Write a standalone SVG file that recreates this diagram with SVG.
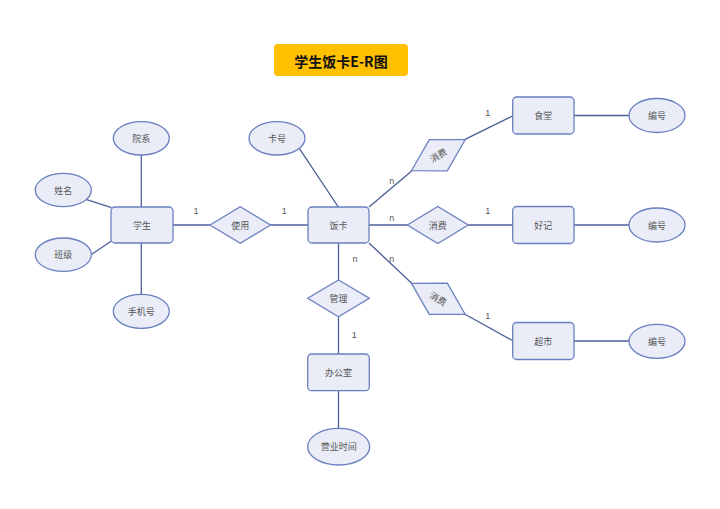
<svg xmlns="http://www.w3.org/2000/svg" width="720" height="509" viewBox="0 0 720 509">
<style>
.s{fill:#EAEDF8;stroke:#6A7FC0;stroke-width:1.3}
.c line{stroke:#4A5E98;stroke-width:1.3}
.t{font-family:"Noto Sans CJK SC","Liberation Sans",sans-serif;font-size:9px;fill:#555;text-anchor:middle;dominant-baseline:central}
.l{font-family:"Liberation Sans","Noto Sans CJK SC",sans-serif;font-size:9px;fill:#555;text-anchor:middle;dominant-baseline:central}
</style>
<rect width="720" height="509" fill="#fff"/>
<g id="title">
<rect x="274" y="44" width="134" height="32" rx="4" fill="#FFC000"/>
<text x="341" y="60.5" font-family="Noto Sans CJK SC,Liberation Sans,sans-serif" font-size="14" font-weight="bold" fill="#111" text-anchor="middle" dominant-baseline="central">学生饭卡E-R图</text>
</g>
<g class="c" id="connectors">
<line x1="141.3" y1="155" x2="141.3" y2="207"/>
<line x1="86" y1="199.3" x2="111.5" y2="207.7"/>
<line x1="91.7" y1="254.3" x2="111.5" y2="241"/>
<line x1="141.3" y1="243" x2="141.3" y2="294.3"/>
<line x1="173" y1="225" x2="210" y2="225"/>
<line x1="270.5" y1="225" x2="308" y2="225"/>
<line x1="299.3" y1="148.3" x2="338.3" y2="207"/>
<line x1="369" y1="207" x2="411.7" y2="171"/>
<line x1="465" y1="139.3" x2="512.7" y2="116"/>
<line x1="369" y1="225" x2="407.3" y2="225"/>
<line x1="468.3" y1="225" x2="512.7" y2="225"/>
<line x1="369" y1="243" x2="411.7" y2="283.3"/>
<line x1="465" y1="314.3" x2="512.7" y2="340.7"/>
<line x1="574" y1="115.5" x2="629.3" y2="115.5"/>
<line x1="574" y1="225" x2="629.3" y2="225"/>
<line x1="574" y1="341" x2="629.3" y2="341"/>
<line x1="338.5" y1="243" x2="338.5" y2="280"/>
<line x1="338.5" y1="316.7" x2="338.5" y2="354"/>
<line x1="338.5" y1="390.7" x2="338.5" y2="428.3"/>
</g>
<g id="labels">
<text class="l" x="196" y="211">1</text>
<text class="l" x="284.3" y="211">1</text>
<text class="l" x="391.7" y="181">n</text>
<text class="l" x="487.7" y="113">1</text>
<text class="l" x="391.7" y="218.3">n</text>
<text class="l" x="487.7" y="210.7">1</text>
<text class="l" x="391.7" y="259.3">n</text>
<text class="l" x="487.7" y="315.7">1</text>
<text class="l" x="355" y="259.3">n</text>
<text class="l" x="354.3" y="335">1</text>
</g>
<g id="student"><rect class="s" x="111" y="207" width="62" height="36" rx="4"/><text class="t" x="142" y="225">学生</text></g>
<g id="yuanxi"><ellipse class="s" cx="141.3" cy="138.3" rx="28" ry="16.7"/><text class="t" x="141.3" y="138.3">院系</text></g>
<g id="xingming"><ellipse class="s" cx="63.3" cy="190" rx="28" ry="16.7"/><text class="t" x="63.3" y="190">姓名</text></g>
<g id="banji"><ellipse class="s" cx="63.3" cy="254.7" rx="28" ry="16.7"/><text class="t" x="63.3" y="254.7">班级</text></g>
<g id="shoujihao"><ellipse class="s" cx="141.3" cy="311.3" rx="28" ry="17"/><text class="t" x="141.3" y="311.3">手机号</text></g>
<g id="shiyong"><polygon class="s" points="210,225 240.3,206.7 270.5,225 240.3,243.3"/><text class="t" x="240.3" y="225">使用</text></g>
<g id="fanka"><rect class="s" x="308" y="207" width="61" height="36" rx="4"/><text class="t" x="338.5" y="225">饭卡</text></g>
<g id="kahao"><ellipse class="s" cx="277" cy="138.3" rx="28" ry="16.7"/><text class="t" x="277" y="138.3">卡号</text></g>
<g id="xiaofei1" transform="translate(438.3 155.2) rotate(-30)"><polygon class="s" points="-31,0 0,-18 31,0 0,18"/><text class="t" x="0" y="0">消费</text></g>
<g id="xiaofei2"><polygon class="s" points="407.3,225 437.8,206.5 468.3,225 437.8,243.5"/><text class="t" x="437.8" y="225">消费</text></g>
<g id="xiaofei3" transform="translate(438.3 298.8) rotate(30)"><polygon class="s" points="-31,0 0,-18 31,0 0,18"/><text class="t" x="0" y="0">消费</text></g>
<g id="shitang"><rect class="s" x="512.7" y="97" width="61.3" height="37" rx="4"/><text class="t" x="543.3" y="115.5">食堂</text></g>
<g id="haoji"><rect class="s" x="512.7" y="206.5" width="61.3" height="37" rx="4"/><text class="t" x="543.3" y="225">好记</text></g>
<g id="chaoshi"><rect class="s" x="512.7" y="322.5" width="61.3" height="37" rx="4"/><text class="t" x="543.3" y="341">超市</text></g>
<g id="bianhao1"><ellipse class="s" cx="657" cy="115.5" rx="28" ry="17"/><text class="t" x="657" y="115.5">编号</text></g>
<g id="bianhao2"><ellipse class="s" cx="657" cy="225" rx="28" ry="17"/><text class="t" x="657" y="225">编号</text></g>
<g id="bianhao3"><ellipse class="s" cx="657" cy="341.3" rx="28" ry="17"/><text class="t" x="657" y="341.3">编号</text></g>
<g id="guanli"><polygon class="s" points="307.7,298.3 338.5,280 369.3,298.3 338.5,316.7"/><text class="t" x="338.5" y="298.3">管理</text></g>
<g id="bangongshi"><rect class="s" x="307.7" y="354" width="61.6" height="36.7" rx="4"/><text class="t" x="338.5" y="372.3">办公室</text></g>
<g id="yingyeshijian"><ellipse class="s" cx="338.7" cy="446.7" rx="31" ry="18.3"/><text class="t" x="338.7" y="446.7">营业时间</text></g>
</svg>
